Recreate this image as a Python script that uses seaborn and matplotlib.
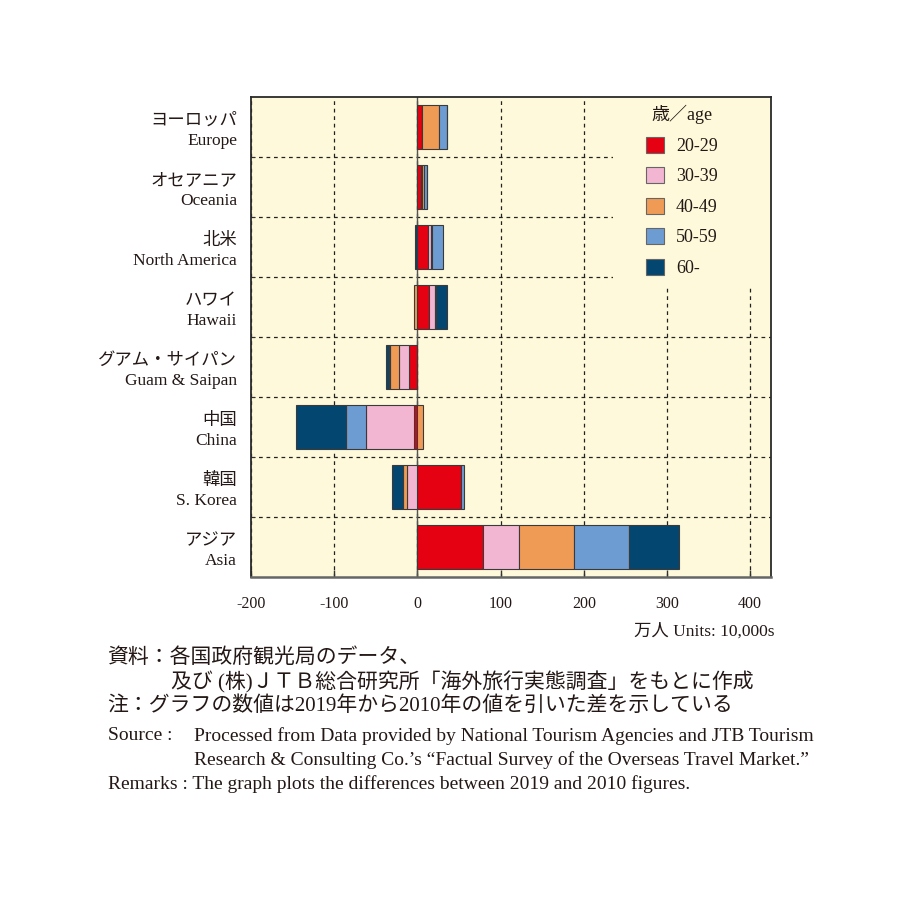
import numpy as np
import seaborn as sns
import matplotlib.pyplot as plt
from matplotlib.patches import Rectangle

# regions, top to bottom
labels_ja = ['ヨーロッパ', 'オセアニア', '北米', 'ハワイ', 'グアム・サイパン', '中国', '韓国', 'アジア']
labels_en = ['Europe', 'Oceania', 'North America', 'Hawaii', 'Guam & Saipan', 'China', 'S. Korea', 'Asia']

# difference 2019 - 2010, units of 10,000 people
age_20_29 = [5.5, 4.5, 13, 14.5, -10.5, -4, 53, 79]
age_30_39 = [0, 0.5, 3, 7, -12, -58, -12, 43]
age_40_49 = [20, 2.5, 1, -4, -11, 7, -5, 66]
age_50_59 = [10, 4, 13.5, 0.5, -1, -24, 3, 66]
age_60 = [0, 0.5, -2.5, 13.5, -3, -60, -13.5, 60]

age_groups = ['20-29', '30-39', '40-49', '50-59', '60-']
colors = ['#e50012', '#f3b6d2', '#f09b55', '#6d9cd3', '#03466f']
x_ticks = [-200, -100, 0, 100, 200, 300, 400]

bg = '#fef9da'
ink = '#231815'

sns.set_style('ticks')
plt.rcParams['font.family'] = ['Liberation Serif', 'Noto Sans CJK JP']
plt.rcParams['text.color'] = ink

fig = plt.figure(figsize=(8.98, 8.98), dpi=100)
ax = fig.add_axes([251 / 898, 1 - 577 / 898, 520 / 898, 480 / 898])
ax.set_facecolor(bg)
ax.set_axisbelow(True)

y = np.arange(len(labels_en))
pos = np.zeros(len(y))
neg = np.zeros(len(y))
for name, vals, col in zip(age_groups, [age_20_29, age_30_39, age_40_49, age_50_59, age_60], colors):
    vals = np.array(vals, dtype=float)
    left = np.where(vals >= 0, pos, neg)
    ax.barh(y, vals, left=left, height=0.72, color=col, edgecolor='#3a3a3a',
            linewidth=0.8, label=name, zorder=2)
    pos += np.clip(vals, 0, None)
    neg += np.clip(vals, None, 0)

ax.set_xlim(-200, 425)
ax.set_ylim(len(y) - 0.5, -0.5)

ax.set_xticks(x_ticks)
ax.set_xticklabels([str(t) for t in x_ticks])
ax.set_yticks(y)
ax.set_yticklabels([f'{j}\n{e}' for j, e in zip(labels_ja, labels_en)], linespacing=1.35)
ax.set_yticks(np.arange(0.5, len(y) - 1, 1), minor=True)

ax.tick_params(axis='x', direction='in', length=5, width=1, color='#333333', pad=14,
               labelsize=11.5, labelcolor=ink)
ax.tick_params(axis='y', which='major', length=0, pad=10, labelsize=12.5, labelcolor=ink)
ax.tick_params(axis='y', which='minor', direction='in', length=3, color='#333333')

ax.grid(axis='x', which='major', color='#222222', linestyle=(0, (3, 3)), linewidth=0.9)
ax.grid(axis='y', which='minor', color='#222222', linestyle=(0, (3, 3)), linewidth=0.9)
ax.axvline(0, color='#555555', linewidth=1, zorder=1.5)

for side in ['left', 'right', 'top']:
    ax.spines[side].set_color('#2a2a2a')
    ax.spines[side].set_linewidth(1.3)
ax.spines['bottom'].set_color('#666666')
ax.spines['bottom'].set_linewidth(1.8)

# legend area hides the grid underneath
ax.add_patch(Rectangle(((613 - 251) / 520, (577 - 287) / 480), 1 - (613 - 251) / 520,
                       1 - (577 - 287) / 480, transform=ax.transAxes, facecolor=bg,
                       edgecolor='none', zorder=1))
leg = ax.legend(title='歳／age', loc='upper left', bbox_to_anchor=((646 - 251) / 520, (577 - 105) / 480),
                frameon=False, fontsize=13, title_fontsize=13, handlelength=1.0,
                handleheight=1.0, handletextpad=0.65, labelspacing=0.68, borderpad=0,
                borderaxespad=0)
for h in leg.legend_handles:
    h.set_edgecolor('#666666')

# notes below the chart
fig.text(775 / 898, 1 - 631 / 898, '万人 Units: 10,000s', ha='right', va='center', fontsize=12.5)
fig.text(107 / 898, 1 - 658 / 898, '資料：各国政府観光局のデータ、', ha='left', va='center', fontsize=15)
fig.text(171 / 898, 1 - 682 / 898, '及び (株)ＪＴＢ総合研究所「海外旅行実態調査」をもとに作成',
         ha='left', va='center', fontsize=15)
fig.text(107 / 898, 1 - 706 / 898, '注：グラフの数値は2019年から2010年の値を引いた差を示している',
         ha='left', va='center', fontsize=15)
fig.text(108 / 898, 1 - 736 / 898, 'Source :', ha='left', va='center', fontsize=14)
fig.text(194 / 898, 1 - 736 / 898,
         'Processed from Data provided by National Tourism Agencies and JTB Tourism',
         ha='left', va='center', fontsize=14)
fig.text(194 / 898, 1 - 760 / 898,
         'Research & Consulting Co.’s “Factual Survey of the Overseas Travel Market.”',
         ha='left', va='center', fontsize=14)
fig.text(108 / 898, 1 - 784 / 898,
         'Remarks : The graph plots the differences between 2019 and 2010 figures.',
         ha='left', va='center', fontsize=14)

fig.savefig('out.png', dpi=100, facecolor='white')
